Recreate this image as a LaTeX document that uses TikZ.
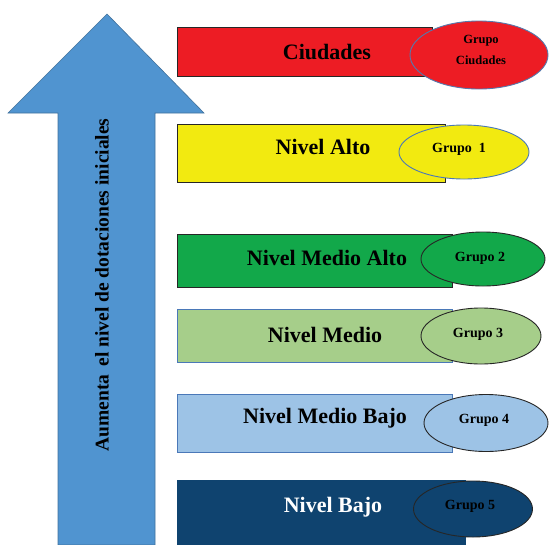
\documentclass[tikz,border=0pt]{standalone}
\usepackage{fontspec}
\setmainfont{Liberation Serif}
\usetikzlibrary{shapes.geometric}
\definecolor{arrowblue}{HTML}{5094D0}
\definecolor{arrowedge}{HTML}{41719C}
\definecolor{cred}{HTML}{ED1C24}
\definecolor{cyellow}{HTML}{F2EA10}
\definecolor{cgreen}{HTML}{12A84A}
\definecolor{clgreen}{HTML}{A6CE8A}
\definecolor{clblue}{HTML}{9DC3E6}
\definecolor{cdblue}{HTML}{0F436F}
\definecolor{edgeblue}{HTML}{4A78B8}
\tikzset{
  levelbox/.style={rectangle, inner sep=0pt, line width=0.9pt, anchor=north west},
  grpell/.style={ellipse, inner sep=0pt, line width=0.9pt},
  leveltext/.style={font=\bfseries\fontsize{22}{24}\selectfont, inner sep=0pt},
  grptext/.style={font=\bfseries\fontsize{14}{16}\selectfont, inner sep=0pt, align=center},
}
\begin{document}
\begin{tikzpicture}[x=1pt,y=-1pt]
\useasboundingbox (0,0) rectangle (549,544);
% arrow
\draw[fill=arrowblue, draw=arrowedge, line width=0.6pt]
  (58,545) -- (58,113) -- (8,113) -- (107,14) -- (204,113) -- (155,113) -- (155,545) -- cycle;
\node[rotate=90, font=\bfseries\fontsize{19.5}{21}\selectfont, inner sep=0pt] (arrowtext) at (102,285) {Aumenta\, el nivel de dotaciones iniciales};
% Ciudades
\node[levelbox, fill=cred, draw=black!85, minimum width=255, minimum height=49] (b0) at (177,27) {};
\node[grpell, fill=cred, draw=edgeblue!80!gray, minimum width=138, minimum height=68] (e0) at (479,55) {};
\node[leveltext] (t0) at (327,52) {Ciudades};
\node[grptext, align=center, font=\bfseries\fontsize{12.5}{21}\selectfont] (g0) at (481,50) {Grupo\\Ciudades};
% Nivel Alto
\node[levelbox, fill=cyellow, draw=black!85, minimum width=268, minimum height=58] (b1) at (177,124) {};
\node[grpell, fill=cyellow, draw=edgeblue, minimum width=130, minimum height=54] (e1) at (464,152) {};
\node[leveltext] (t1) at (323,147) {Nivel Alto};
\node[grptext] (g1) at (459,149) {Grupo\enspace 1};
% Nivel Medio Alto
\node[levelbox, fill=cgreen, draw=black!85, minimum width=275, minimum height=53] (b2) at (177,234) {};
\node[grpell, fill=cgreen, draw=black!85, minimum width=124, minimum height=54] (e2) at (483,259) {};
\node[leveltext] (t2) at (327,258) {Nivel Medio Alto};
\node[grptext] (g2) at (480,258) {Grupo 2};
% Nivel Medio
\node[levelbox, fill=clgreen, draw=edgeblue, minimum width=275, minimum height=53] (b3) at (177,309) {};
\node[grpell, fill=clgreen, draw=black!85, minimum width=120, minimum height=56] (e3) at (481,336) {};
\node[leveltext] (t3) at (325,335) {Nivel Medio};
\node[grptext] (g3) at (478,334) {Grupo 3};
% Nivel Medio Bajo
\node[levelbox, fill=clblue, draw=edgeblue, minimum width=275, minimum height=58] (b4) at (177,394) {};
\node[grpell, fill=clblue, draw=black!85, minimum width=124, minimum height=57] (e4) at (486,423) {};
\node[leveltext] (t4) at (325,418) {Nivel Medio Bajo};
\node[grptext] (g4) at (484,420) {Grupo 4};
% Nivel Bajo
\node[levelbox, fill=cdblue, draw=cdblue, minimum width=288, minimum height=66] (b5) at (177,480) {};
\node[grpell, fill=cdblue, draw=black!85, minimum width=119, minimum height=56] (e5) at (473,509) {};
\node[leveltext, text=white] (t5) at (333,507) {Nivel Bajo};
\node[grptext] (g5) at (470,506) {Grupo 5};
\end{tikzpicture}
\end{document}
